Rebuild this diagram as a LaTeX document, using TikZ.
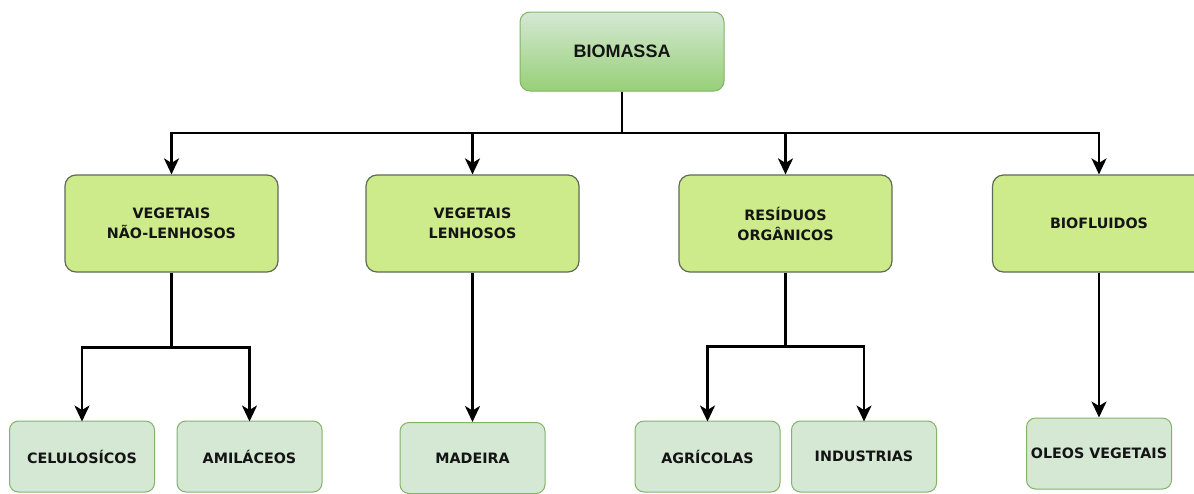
\documentclass[tikz,border=0pt]{standalone}
\usepackage{fontspec}
\newfontfamily\arialfont{Liberation Sans}
\newfontfamily\verdfont{DejaVu Sans}
\usetikzlibrary{arrows.meta}
\definecolor{topfill}{HTML}{D5E8D4}
\definecolor{botfill}{HTML}{97D077}
\definecolor{midfill}{HTML}{CDEB8B}
\definecolor{midstroke}{HTML}{5F6B55}
\definecolor{leaffill}{HTML}{D5E8D4}
\definecolor{leafstroke}{HTML}{82B366}
\definecolor{txt}{HTML}{141414}
\tikzset{
  rootbox/.style={draw=leafstroke, line width=1pt, rounded corners=10pt, top color=topfill, bottom color=botfill,
    minimum width=204pt, minimum height=79pt, inner sep=0pt, text=txt, font=\arialfont\bfseries\fontsize{18}{20}\selectfont},
  midbox/.style={draw=midstroke, line width=1.2pt, rounded corners=11pt, fill=midfill,
    minimum width=213pt, minimum height=97pt, inner sep=0pt, align=center, text=txt, font=\verdfont\bfseries\fontsize{14.3}{20}\selectfont},
  leafbox/.style={draw=leafstroke, line width=1pt, rounded corners=9pt, fill=leaffill,
    minimum width=145pt, minimum height=71pt, inner sep=0pt, text=txt, font=\verdfont\bfseries\fontsize{14.3}{17}\selectfont},
  arr/.style={draw=black, line width=2.5pt, -{Stealth[length=16pt,width=15pt,inset=4.5pt]}},
}
\begin{document}
\begin{tikzpicture}[x=1pt,y=-1pt]
\useasboundingbox (0,0) rectangle (1194,493);
\clip (0,0) rectangle (1194,493);
\fill[white] (0,0) rectangle (1194,493);

\node[rootbox] (bio) at (622,51.5) {BIOMASSA};

\node[midbox] (nl) at (171.5,223.5) {VEGETAIS\\NÃO-LENHOSOS};
\node[midbox] (le) at (472.5,223.5) {VEGETAIS\\LENHOSOS};
\node[midbox] (re) at (785.5,223.5) {RESÍDUOS\\ORGÂNICOS};
\node[midbox] (bf) at (1099,223.5) {BIOFLUIDOS};

\node[leafbox] (ce) at (82,456.5) {CELULOSÍCOS};
\node[leafbox] (am) at (249.5,456.5) {AMILÁCEOS};
\node[leafbox] (ma) at (472.5,458) {MADEIRA};
\node[leafbox] (ag) at (707.5,456.5) {AGRÍCOLAS};
\node[leafbox] (in) at (864,456.5) {INDUSTRIAS};
\node[leafbox] (ol) at (1099,453.5) {OLEOS VEGETAIS};

\draw[arr] (bio.south) -- ++(0,41.5) -| (nl.north);
\draw[arr] (bio.south) -- ++(0,41.5) -| (le.north);
\draw[arr] (bio.south) -- ++(0,41.5) -| (re.north);
\draw[arr] (bio.south) -- ++(0,41.5) -| (bf.north);

\draw[arr] (nl.south) -- ++(0,75) -| ([yshift=-1pt]ce.north);
\draw[arr] (nl.south) -- ++(0,75) -| ([yshift=-1pt]am.north);
\draw[arr] (le.south) -- (ma.north);
\draw[arr] (re.south) -- ++(0,74) -| ([yshift=-1pt]ag.north);
\draw[arr] (re.south) -- ++(0,74) -| ([yshift=-1pt]in.north);
\draw[arr] (bf.south) -- (ol.north);
\end{tikzpicture}
\end{document}
